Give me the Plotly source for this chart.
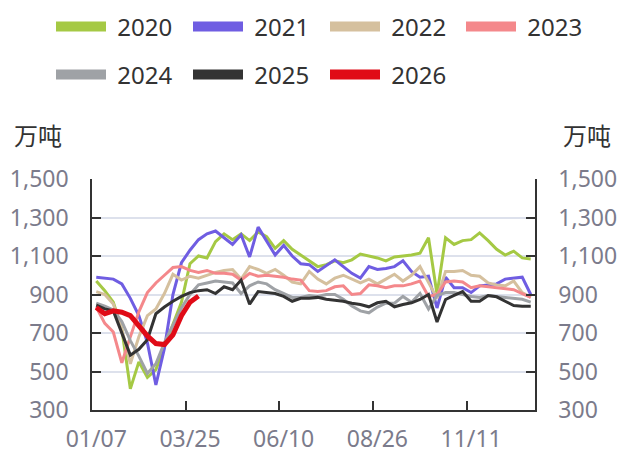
import datetime as dt
import plotly.graph_objects as go

# ---- categories (weekly, 52 weeks) ----
start = dt.date(2025, 1, 7)
weeks = [(start + dt.timedelta(weeks=k)).strftime("%m/%d") for k in range(52)]
x_tick_step = 11
y_tick_values = [300, 500, 700, 900, 1100, 1300, 1500]

# ---- series (万吨) ----
s2020 = [970, 920, 860, 720, 410, 550, 470, 510, 630, 740,
         860, 1060, 1100, 1090, 1175, 1215, 1185, 1215, 1180, 1225,
         1200, 1140, 1180, 1135, 1105, 1075, 1045, 1055, 1075, 1065,
         1080, 1110, 1100, 1090, 1075, 1095, 1100, 1105, 1115, 1195,
         900, 1195, 1160, 1180, 1185, 1220, 1180, 1135, 1105, 1125,
         1090, 1085]
s2021 = [990, 985, 980, 955, 880, 790, 650, 430, 620, 900,
         1065, 1130, 1185, 1215, 1230, 1195, 1160, 1210, 1095, 1250,
         1175, 1105, 1155, 1100, 1060, 1055, 1020, 1050, 1080, 1045,
         1010, 985, 1045, 1030, 1035, 1045, 1075, 1020, 990, 995,
         830, 990, 935, 935, 910, 945, 950, 955, 980, 985,
         990, 900]
s2022 = [915, 900, 850, 720, 540, 680, 790, 825, 905, 1005,
         975, 995, 985, 1000, 1015, 1025, 1030, 980, 1045, 1030,
         1010, 1030, 1000, 965, 955, 1020, 980, 955, 985, 1000,
         980, 960, 980, 955, 980, 1005, 970, 1000, 1045, 960,
         880, 1020, 1020, 1025, 1000, 995, 960, 950, 945, 970,
         910, 885]
s2023 = [835, 750, 705, 545, 680, 810, 910, 960, 1000, 1040,
         1045, 1025, 1015, 1025, 1010, 1010, 1005, 975, 1010, 995,
         1000, 995, 990, 980, 975, 920, 915, 920, 940, 945,
         900, 905, 950, 945, 935, 945, 945, 955, 970, 890,
         900, 965, 970, 965, 935, 945, 940, 935, 930, 925,
         905, 885]
s2024 = [855, 840, 820, 760, 660, 580, 490, 540, 650, 740,
         830, 900, 950, 960, 970, 965, 960, 905, 945, 965,
         955, 925, 905, 885, 885, 895, 890, 900, 900, 875,
         840, 815, 805, 835, 855, 855, 890, 860, 905, 825,
         895, 910, 910, 900, 890, 885, 895, 890, 885, 880,
         875, 860]
s2025 = [845, 825, 815, 705, 585, 615, 665, 800, 835, 865,
         890, 910, 920, 925, 905, 940, 925, 975, 850, 915,
         910, 905, 890, 865, 880, 880, 885, 875, 870, 865,
         855, 848, 836, 857, 865, 836, 848, 857, 874, 900,
         757, 874, 895, 915, 865, 865, 895, 888, 865, 843,
         839, 839]
s2026 = [832, 800, 815, 808, 790, 740, 685, 645, 640, 690,
         790, 860, 892]

names = ["2020", "2021", "2022", "2023", "2024", "2025", "2026"]
series = [s2020, s2021, s2022, s2023, s2024, s2025, s2026]
colors = ["#a5c944", "#6f5de2", "#d5c09e", "#f4888b", "#9fa2a6", "#333333", "#e00b17"]
widths = [3, 3, 3, 3, 3, 3, 5]

# figure geometry (page has an 8px body margin)
W, H = 620, 445
ML, MR, MT, MB = 84, 93, 171, 43
PW, PH = W - ML - MR, H - MT - MB

# category positions on a linear axis (one unit per week)
pos = list(range(len(weeks)))
label_pos = pos[::x_tick_step]
label_text = weeks[::x_tick_step]
boundary_pos = [p - 0.5 for p in label_pos[1:]]

fig = go.Figure()
for nm, vals, col, w in zip(names, series, colors, widths):
    n = len(vals)
    fig.add_trace(go.Scatter(
        x=pos[:n], y=vals, mode="lines", name=nm, text=weeks[:n],
        line=dict(color=col, width=w), showlegend=False,
        yaxis="y2" if nm == "2026" else "y",
        hovertemplate="%{text}: %{y}<extra>" + nm + "</extra>"))

# legend: one small legend per entry, laid out in a 4-column grid
legend_cols_px = [43, 180, 317, 453]
legend_rows_px = [19, 67]
legfont = dict(family="Noto Sans, Noto Sans CJK SC", size=24, color="#333333")
legend_layout = {}
for i, (nm, col) in enumerate(zip(names, colors)):
    key = "legend" if i == 0 else "legend%d" % (i + 1)
    fig.add_trace(go.Scatter(
        x=[None], y=[None], mode="lines", name=" " + nm,
        line=dict(color=col, width=10), legend=key))
    legend_layout[key] = dict(
        orientation="h", xref="container", yref="container",
        x=legend_cols_px[i % 4] / W, y=1 - legend_rows_px[i // 4] / H,
        xanchor="left", yanchor="middle", font=legfont, itemwidth=50,
        bgcolor="rgba(0,0,0,0)", itemclick=False, itemdoubleclick=False)

tickfont = dict(family="Noto Sans, Noto Sans CJK SC", size=23, color="#7b7b8b")
common_y = dict(range=[300, 1500], tickmode="array", tickvals=y_tick_values,
                tickformat=",", ticks="inside", ticklen=9, tickwidth=1.5,
                tickcolor="#333333", showline=True, linecolor="#333333",
                linewidth=1.5, zeroline=False, tickfont=tickfont,
                ticklabelstandoff=17, automargin=False)

unit_font = dict(family="Noto Sans CJK SC", size=24, color="#333333")
fig.update_layout(
    width=W, height=H,
    margin=dict(l=ML, r=MR, t=MT, b=MB),
    paper_bgcolor="white", plot_bgcolor="white",
    font=dict(family="Noto Sans, Noto Sans CJK SC"),
    xaxis=dict(range=[-0.5, len(weeks) - 0.5], tickmode="array",
               tickvals=label_pos, ticktext=label_text, ticks="",
               minor=dict(tickmode="array", tickvals=boundary_pos, ticks="inside",
                          ticklen=9, tickwidth=1.5, tickcolor="#333333", showgrid=False),
               showline=True, linecolor="#333333", linewidth=1.5, showgrid=False,
               zeroline=False, tickangle=0, tickfont=tickfont, ticklabelstandoff=8,
               automargin=False),
    yaxis=dict(**common_y, showgrid=True, gridcolor="#dde1ec", gridwidth=1.5),
    yaxis2=dict(**common_y, overlaying="y", side="right", showgrid=False),
    annotations=[
        dict(text="万吨", xref="paper", yref="paper", x=(30 - ML) / PW,
             y=(MT + PH - 126) / PH, showarrow=False, xanchor="center",
             yanchor="middle", font=unit_font),
        dict(text="万吨", xref="paper", yref="paper", x=(579 - ML) / PW,
             y=(MT + PH - 126) / PH, showarrow=False, xanchor="center",
             yanchor="middle", font=unit_font),
    ],
    **legend_layout,
)

fig.write_html("out.html")
